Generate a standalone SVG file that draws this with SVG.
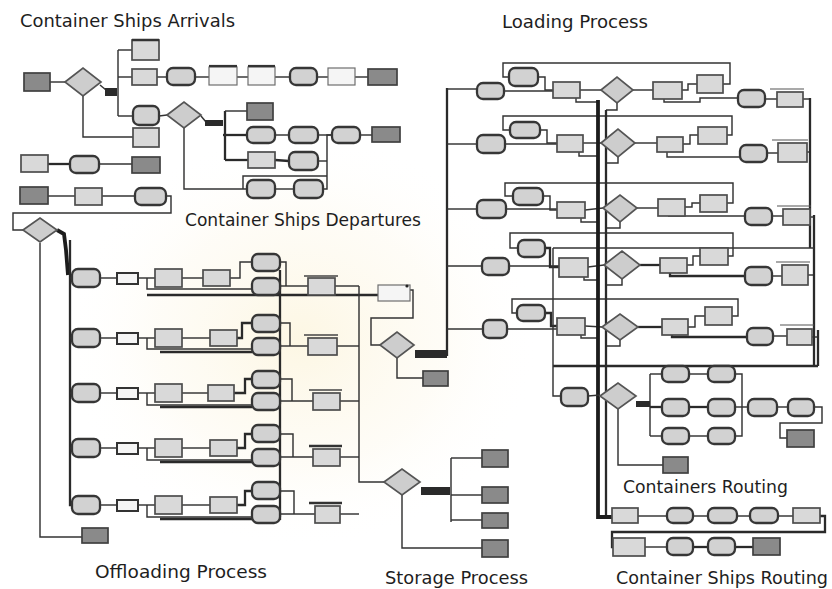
<svg xmlns="http://www.w3.org/2000/svg" width="832" height="589" viewBox="0 0 832 589">
  <style>
    .src  { fill: #8a8a8a; stroke: #404040; stroke-width: 1.7; }
    .box  { fill: #d9d9d9; stroke: #4d4d4d; stroke-width: 1.7; }
    .proc { fill: #d2d2d2; stroke: #363636; stroke-width: 2.3; }
    .q    { fill: #f5f5f5; stroke: #6e6e6e; stroke-width: 1.2; }
    .dec  { fill: #cdcdcd; stroke: #555; stroke-width: 1.7; }
    .bar  { fill: #2a2a2a; }
    .ln   { fill: none; stroke: #333; stroke-width: 1.45; }
    .ln2  { fill: none; stroke: #2a2a2a; stroke-width: 2.3; }
    .thick{ fill: none; stroke: #1c1c1c; stroke-width: 3.8; }
    .title{ font-family: "DejaVu Sans", "Liberation Sans", sans-serif; font-size: 17px; fill: #1e1e1e; }
  </style>
  <defs>
    <radialGradient id="glow" cx="0.5" cy="0.5" r="0.5">
      <stop offset="0" stop-color="#fcf4da" stop-opacity="0.75"/>
      <stop offset="0.6" stop-color="#fdf8ea" stop-opacity="0.4"/>
      <stop offset="1" stop-color="#ffffff" stop-opacity="0"/>
    </radialGradient>
  </defs>

  <rect width="832" height="589" fill="#ffffff"/>
  <ellipse cx="300" cy="340" rx="240" ry="210" fill="url(#glow)"/>

  <!-- section titles -->
  <g id="titles">
    <text class="title" x="20" y="27" textLength="215" lengthAdjust="spacingAndGlyphs">Container Ships Arrivals</text>
    <text class="title" x="502" y="28" textLength="146" lengthAdjust="spacingAndGlyphs">Loading Process</text>
    <text class="title" x="185" y="226" textLength="236" lengthAdjust="spacingAndGlyphs">Container Ships Departures</text>
    <text class="title" x="95" y="578" textLength="172" lengthAdjust="spacingAndGlyphs">Offloading Process</text>
    <text class="title" x="385" y="584" textLength="143" lengthAdjust="spacingAndGlyphs">Storage Process</text>
    <text class="title" x="623" y="493" textLength="165" lengthAdjust="spacingAndGlyphs">Containers Routing</text>
    <text class="title" x="616" y="584" textLength="212" lengthAdjust="spacingAndGlyphs">Container Ships Routing</text>
  </g>

  <!-- connectors -->
  <g id="connectors">
    <!-- arrivals -->
    <polyline class="ln" points="50,82 65,82"/>
    <polyline class="ln" points="100,85 106,90"/>
    <polyline class="ln" points="118,50 118,116"/>
    <polyline class="ln" points="118,50 132,50"/>
    <polyline class="ln" points="118,77 132,77"/>
    <polyline class="ln" points="118,116 133,116"/>
    <polyline class="ln" points="157,77 167,77"/>
    <polyline class="ln" points="195,77 209,77"/>
    <polyline class="ln" points="237,77 248,77"/>
    <polyline class="ln" points="275,77 290,77"/>
    <polyline class="ln" points="317,77 328,77"/>
    <polyline class="ln" points="355,77 368,77"/>
    <polyline class="ln" points="83,96 83,137 133,137"/>
    <polyline class="ln" points="159,116 167,115"/>
    <polyline class="ln" points="201,116 206,122"/>
    <polyline class="ln2" points="225,111 225,160"/>
    <polyline class="ln" points="225,111 247,111"/>
    <polyline class="ln2" points="223,135 247,135"/>
    <polyline class="ln2" points="225,160 248,160"/>
    <polyline class="ln" points="275,135 289,135"/>
    <polyline class="ln" points="318,135 332,135"/>
    <polyline class="ln" points="360,135 372,135"/>
    <polyline class="ln2" points="275,160 289,161"/>
    <polyline class="ln" points="184,128 184,189 247,189"/>
    <polyline class="ln" points="275,189 294,189"/>
    <polyline class="ln" points="323,189 327,189 327,135 332,135"/>
    <polyline class="ln" points="318,161 327,161"/>
    <polyline class="ln" points="243,189 243,176 327,176"/>
    <polyline class="ln2" points="48,164 70,164"/>
    <polyline class="ln" points="99,164 132,164"/>
    <polyline class="ln" points="48,196 75,196"/>
    <polyline class="ln" points="102,196 135,196"/>
    <polyline class="ln" points="166,196 171,196 171,213 13,213 13,230 23,230"/>

    <!-- offloading -->
    <polyline class="ln" points="40,243 40,537 82,537"/>
    <polyline class="thick" points="57,230 64,234 66,250 68,275"/>
    <polyline class="ln2" points="70,240 70,505 72,505"/>
    <polyline class="ln" points="70,278 72,278"/>
    <polyline class="ln" points="70,338 72,338"/>
    <polyline class="ln" points="70,393 72,393"/>
    <polyline class="ln" points="70,448 72,448"/>

    <polyline class="ln" points="100,278 117,278"/>
    <polyline class="ln" points="138,278 147,278 155,278"/>
    <polyline class="ln" points="147,278 147,289 252,289"/>
    <polyline class="ln" points="182,278 203,278"/>
    <polyline class="ln" points="230,278 240,278 240,262 252,262"/>
    <polyline class="ln" points="280,262 286,262 286,286"/>
    <polyline class="ln" points="280,286 308,286"/>
    <polyline class="ln" points="335,286 359,286"/>
    <polyline class="ln2" points="147,295 378,295"/>

    <polyline class="ln" points="100,338 117,338"/>
    <polyline class="ln" points="138,338 147,338 155,338"/>
    <polyline class="ln" points="147,338 147,349 252,349"/>
    <polyline class="ln2" points="160,352 252,352"/>
    <polyline class="ln" points="182,338 210,338"/>
    <polyline class="ln2" points="237,338 242,338 242,323 252,323"/>
    <polyline class="ln" points="280,323 290,323 290,346"/>
    <polyline class="ln" points="280,346 308,346"/>
    <polyline class="ln" points="337,346 359,346"/>

    <polyline class="ln" points="100,393 117,393"/>
    <polyline class="ln" points="138,393 147,393 155,393"/>
    <polyline class="ln" points="147,393 147,405 252,405"/>
    <polyline class="ln2" points="160,407 252,407"/>
    <polyline class="ln" points="182,393 208,393"/>
    <polyline class="ln2" points="234,393 245,393 245,379 252,379"/>
    <polyline class="ln" points="280,379 292,379 292,401"/>
    <polyline class="ln" points="280,401 313,401"/>
    <polyline class="ln" points="340,401 359,401"/>

    <polyline class="ln" points="100,448 117,448"/>
    <polyline class="ln" points="138,448 147,448 155,448"/>
    <polyline class="ln" points="147,448 147,460 252,460"/>
    <polyline class="ln2" points="160,462 252,462"/>
    <polyline class="ln" points="182,448 210,448"/>
    <polyline class="ln2" points="237,448 245,448 245,434 252,434"/>
    <polyline class="ln" points="280,434 293,434 293,457"/>
    <polyline class="ln" points="280,457 313,457"/>
    <polyline class="ln" points="340,457 359,457"/>

    <polyline class="ln" points="100,505 117,505"/>
    <polyline class="ln" points="138,505 147,505 155,505"/>
    <polyline class="ln" points="147,505 147,517 252,517"/>
    <polyline class="ln2" points="160,519 252,519"/>
    <polyline class="ln" points="182,505 210,505"/>
    <polyline class="ln2" points="237,505 245,505 245,491 252,491"/>
    <polyline class="ln" points="280,491 294,491 294,514"/>
    <polyline class="ln" points="280,514 315,514"/>
    <polyline class="ln" points="340,514 359,514"/>

    <polyline class="ln2" points="280,270 280,520"/>
    <polyline class="ln" points="359,286 359,482 384,482"/>

    <!-- storage -->
    <polyline class="ln" points="410,290 413,290 413,318 371,318 371,345 380,345"/>
    <polyline class="ln2" points="447,356 447,88"/>
    <polyline class="ln" points="397,358 397,378 423,378"/>
    <polyline class="ln" points="451,458 451,522"/>
    <polyline class="ln" points="451,458 482,458"/>
    <polyline class="ln" points="451,495 482,495"/>
    <polyline class="ln" points="451,520 482,520"/>
    <polyline class="ln" points="402,495 402,548 482,548"/>

    <!-- loading: entry lines from the left bus -->
    <polyline class="ln" points="447,89 477,89"/>
    <polyline class="ln" points="447,144 477,144"/>
    <polyline class="ln" points="447,209 477,209"/>
    <polyline class="ln" points="447,266 482,266"/>
    <polyline class="ln" points="447,329 483,329"/>

    <!-- loading row 1 -->
    <polyline class="ln" points="504,91 553,91"/>
    <polyline class="ln" points="723,84 730,84 730,63 503,63 503,77 509,77"/>
    <polyline class="ln" points="538,77 545,77 545,90 553,90"/>
    <polyline class="ln" points="580,90 601,90"/>
    <polyline class="ln" points="576,98 576,102 598,102"/>
    <polyline class="ln" points="633,90 653,90"/>
    <polyline class="ln" points="682,90 688,90 688,84 697,84"/>
    <polyline class="ln" points="664,99 664,102 700,102 700,98 738,98"/>
    <polyline class="ln" points="765,99 777,99"/>
    <polyline class="ln" points="803,99 810,99"/>
    <polyline class="ln" points="617,103 617,110 606,110"/>

    <!-- loading row 2 -->
    <polyline class="ln" points="505,144 557,144"/>
    <polyline class="ln" points="727,135 732,135 732,116 503,116 503,130 510,130"/>
    <polyline class="ln" points="540,130 547,130 547,143 557,143"/>
    <polyline class="ln" points="583,143 601,143"/>
    <polyline class="ln" points="579,152 579,156 598,156"/>
    <polyline class="ln" points="635,143 657,143"/>
    <polyline class="ln" points="683,144 690,144 690,135 698,135"/>
    <polyline class="ln" points="667,152 667,157 740,157"/>
    <polyline class="ln" points="767,153 778,153"/>
    <polyline class="ln" points="807,152 810,152"/>
    <polyline class="ln" points="618,157 618,163 606,163"/>

    <!-- loading row 3 -->
    <polyline class="ln" points="506,209 557,209"/>
    <polyline class="ln" points="727,203 733,203 733,183 505,183 505,196 513,196"/>
    <polyline class="ln" points="543,196 550,196 550,210 557,210"/>
    <polyline class="ln" points="585,210 603,208"/>
    <polyline class="ln" points="581,218 581,222 598,222"/>
    <polyline class="ln" points="637,208 658,208"/>
    <polyline class="ln" points="685,207 692,207 692,203 700,203"/>
    <polyline class="ln" points="668,216 745,216"/>
    <polyline class="ln" points="772,216 783,216"/>
    <polyline class="ln" points="810,217 814,217"/>
    <polyline class="ln" points="620,222 620,228 606,228"/>

    <!-- loading row 4 -->
    <polyline class="ln" points="509,266 559,266"/>
    <polyline class="ln" points="728,256 733,256 733,233 510,233 510,248 518,248"/>
    <polyline class="ln2" points="545,248 550,248 550,267 559,267"/>
    <polyline class="ln" points="588,267 604,265"/>
    <polyline class="ln" points="584,277 584,280 598,280"/>
    <polyline class="ln2" points="640,265 660,265"/>
    <polyline class="ln" points="687,265 693,265 693,256 700,256"/>
    <polyline class="ln2" points="670,273 670,276 745,276"/>
    <polyline class="ln" points="772,276 782,276"/>
    <polyline class="ln" points="808,275 814,275"/>
    <polyline class="ln" points="622,279 622,285 606,285"/>

    <!-- loading row 5 -->
    <polyline class="ln" points="507,329 557,329"/>
    <polyline class="ln" points="732,316 738,316 738,299 512,299 512,313 517,313"/>
    <polyline class="ln2" points="545,313 551,313 551,326 557,326"/>
    <polyline class="ln" points="585,326 602,327"/>
    <polyline class="ln" points="581,335 581,338 598,338"/>
    <polyline class="ln2" points="638,327 662,327"/>
    <polyline class="ln" points="688,327 695,327 695,316 705,316"/>
    <polyline class="ln2" points="672,335 672,337 747,337"/>
    <polyline class="ln" points="773,336 787,336"/>
    <polyline class="ln" points="812,337 818,337"/>
    <polyline class="ln" points="620,340 620,346 606,346"/>

    <!-- loading buses -->
    <polyline class="ln2" points="810,98 810,248"/>
    <polyline class="ln2" points="814,215 814,366"/>
    <polyline class="ln2" points="818,330 818,366"/>
    <polyline class="ln" points="553,248 814,248"/>
    <polyline class="ln2" points="553,366 818,366"/>
    <polyline class="ln" points="553,248 553,396 562,396"/>
    <polyline class="thick" points="598,100 598,517 612,517"/>
    <polyline class="ln2" points="606,110 606,515"/>

    <!-- containers routing -->
    <polyline class="ln" points="588,396 600,395"/>
    <polyline class="ln" points="650,374 650,436"/>
    <polyline class="ln" points="650,374 662,374"/>
    <polyline class="ln2" points="650,407 662,407"/>
    <polyline class="ln" points="650,436 662,436"/>
    <polyline class="ln" points="688,374 708,374"/>
    <polyline class="ln2" points="688,407 708,407"/>
    <polyline class="ln" points="688,436 708,436"/>
    <polyline class="ln" points="735,374 742,374 742,436 735,436"/>
    <polyline class="ln" points="735,407 748,407"/>
    <polyline class="ln" points="777,407 788,407"/>
    <polyline class="ln" points="813,407 822,407 822,423 780,423 780,438 787,438"/>
    <polyline class="ln" points="618,408 618,465 663,465"/>

    <!-- container ships routing -->
    <polyline class="ln" points="638,516 667,516"/>
    <polyline class="ln" points="693,516 708,516"/>
    <polyline class="ln" points="737,516 750,516"/>
    <polyline class="ln" points="778,516 793,516"/>
    <polyline class="ln2" points="820,516 825,516 825,532 612,532 612,547 613,547"/>
    <polyline class="ln" points="645,547 667,547"/>
    <polyline class="ln2" points="693,547 708,547"/>
    <polyline class="ln2" points="735,547 753,547"/>
  </g>

  <!-- container ships arrivals -->
  <g id="arrivals">
    <g id="a_src"><rect class="src" x="24" y="73" width="26" height="18"/></g>
    <g id="a_dec1"><polygon class="dec" points="65,82 83,68 101,82 83,96"/></g>
    <g id="a_split1"><rect class="bar" x="105" y="88" width="12" height="8"/></g>
    <g id="a_n1"><rect class="box" x="132" y="40" width="27" height="20"/><line x1="132" y1="40" x2="159" y2="40" stroke="#333" stroke-width="2.5"/></g>
    <g id="a_n2"><rect class="box" x="132" y="69" width="25" height="16"/></g>
    <g id="a_n3"><rect class="proc" x="167" y="68" width="28" height="17" rx="6"/></g>
    <g id="a_n4"><rect class="q" x="209" y="67" width="28" height="18"/><line x1="209" y1="66" x2="237" y2="66" stroke="#333" stroke-width="2.2"/></g>
    <g id="a_n5"><rect class="q" x="248" y="67" width="27" height="18"/><line x1="248" y1="66" x2="275" y2="66" stroke="#333" stroke-width="2.2"/></g>
    <g id="a_n6"><rect class="proc" x="290" y="68" width="27" height="17" rx="6"/></g>
    <g id="a_n7"><rect class="q" x="328" y="68" width="27" height="17"/></g>
    <g id="a_n8"><rect class="src" x="368" y="69" width="29" height="16"/></g>
    <g id="a_n9"><rect class="proc" x="133" y="106" width="26" height="19" rx="6"/></g>
    <g id="a_dec2"><polygon class="dec" points="167,115 184,102 201,115 184,128"/></g>
    <g id="a_split2"><rect class="bar" x="205" y="120" width="18" height="6"/></g>
    <g id="a_n10"><rect class="box" x="133" y="128" width="26" height="19"/></g>
    <g id="a_n11"><rect class="src" x="247" y="103" width="26" height="17"/></g>
    <g id="a_n12"><rect class="proc" x="247" y="127" width="28" height="16" rx="6"/></g>
    <g id="a_n13"><rect class="proc" x="289" y="127" width="29" height="16" rx="6"/></g>
    <g id="a_n14"><rect class="proc" x="332" y="127" width="28" height="16" rx="6"/></g>
    <g id="a_n15"><rect class="src" x="372" y="127" width="28" height="15"/></g>
    <g id="a_n16"><rect class="box" x="248" y="152" width="27" height="16"/></g>
    <g id="a_n17"><rect class="proc" x="289" y="152" width="29" height="18" rx="6"/></g>
    <g id="a_n18"><rect class="proc" x="247" y="180" width="28" height="18" rx="6"/></g>
    <g id="a_n19"><rect class="proc" x="294" y="180" width="29" height="18" rx="6"/></g>
    <g id="a_n20"><rect class="box" x="21" y="155" width="27" height="17"/></g>
    <g id="a_n21"><rect class="proc" x="70" y="156" width="29" height="17" rx="6"/></g>
    <g id="a_n22"><rect class="src" x="132" y="157" width="28" height="16"/></g>
    <g id="a_n23"><rect class="src" x="20" y="187" width="28" height="17"/></g>
    <g id="a_n24"><rect class="box" x="75" y="188" width="27" height="17"/></g>
    <g id="a_n25"><rect class="proc" x="135" y="188" width="31" height="17" rx="6"/></g>
  </g>

  <!-- offloading process -->
  <g id="offloading">
    <g id="o_dec"><polygon class="dec" points="23,230 40,218 57,230 40,242"/></g>
    <g id="o_sink"><rect class="src" x="82" y="528" width="26" height="15"/></g>

    <g id="o_r1">
      <rect class="proc" x="72" y="269" width="28" height="18" rx="6"/>
      <rect class="q" x="117" y="273" width="21" height="11" style="stroke:#333;stroke-width:2"/>
      <rect class="box" x="155" y="269" width="27" height="18"/>
      <rect class="box" x="203" y="270" width="27" height="16"/>
      <rect class="proc" x="252" y="254" width="28" height="17" rx="6"/>
      <rect class="proc" x="252" y="278" width="28" height="17" rx="6"/>
      <rect class="box" x="308" y="278" width="27" height="17"/>
      <line x1="304" y1="276" x2="338" y2="276" stroke="#444" stroke-width="1.6"/>
    </g>
    <g id="o_r2">
      <rect class="proc" x="72" y="329" width="28" height="18" rx="6"/>
      <rect class="q" x="117" y="333" width="21" height="11" style="stroke:#333;stroke-width:2"/>
      <rect class="box" x="155" y="329" width="27" height="18"/>
      <rect class="box" x="210" y="330" width="27" height="16"/>
      <rect class="proc" x="252" y="315" width="28" height="17" rx="6"/>
      <rect class="proc" x="252" y="338" width="28" height="17" rx="6"/>
      <rect class="box" x="308" y="338" width="29" height="17"/>
      <line x1="304" y1="335" x2="338" y2="335" stroke="#444" stroke-width="1.6"/>
    </g>
    <g id="o_r3">
      <rect class="proc" x="72" y="384" width="28" height="18" rx="6"/>
      <rect class="q" x="117" y="388" width="21" height="11" style="stroke:#333;stroke-width:2"/>
      <rect class="box" x="155" y="384" width="27" height="18"/>
      <rect class="box" x="208" y="385" width="26" height="16"/>
      <rect class="proc" x="252" y="371" width="28" height="17" rx="6"/>
      <rect class="proc" x="252" y="393" width="28" height="17" rx="6"/>
      <rect class="box" x="313" y="393" width="27" height="17"/>
      <line x1="309" y1="390" x2="342" y2="390" stroke="#444" stroke-width="1.6"/>
    </g>
    <g id="o_r4">
      <rect class="proc" x="72" y="439" width="28" height="18" rx="6"/>
      <rect class="q" x="117" y="443" width="21" height="11" style="stroke:#333;stroke-width:2"/>
      <rect class="box" x="155" y="439" width="27" height="18"/>
      <rect class="box" x="210" y="440" width="27" height="16"/>
      <rect class="proc" x="252" y="425" width="28" height="17" rx="6"/>
      <rect class="proc" x="252" y="449" width="28" height="17" rx="6"/>
      <rect class="box" x="313" y="449" width="27" height="17"/>
      <line x1="309" y1="446" x2="342" y2="446" stroke="#333" stroke-width="2.4"/>
    </g>
    <g id="o_r5">
      <rect class="proc" x="72" y="496" width="28" height="18" rx="6"/>
      <rect class="q" x="117" y="500" width="21" height="11" style="stroke:#333;stroke-width:2"/>
      <rect class="box" x="155" y="496" width="27" height="18"/>
      <rect class="box" x="210" y="497" width="27" height="16"/>
      <rect class="proc" x="252" y="482" width="28" height="17" rx="6"/>
      <rect class="proc" x="252" y="506" width="28" height="17" rx="6"/>
      <rect class="box" x="315" y="506" width="25" height="17"/>
      <line x1="309" y1="503" x2="342" y2="503" stroke="#333" stroke-width="2.4"/>
    </g>
  </g>

  <!-- storage process -->
  <g id="storage">
    <g id="s_gate"><rect class="q" x="378" y="285" width="32" height="16"/><circle cx="407" cy="286" r="1.6" fill="#222"/></g>
    <g id="s_dec0"><polygon class="dec" points="380,345 397,332 414,345 397,358"/></g>
    <g id="s_split0"><rect class="bar" x="415" y="350" width="32" height="8"/></g>
    <g id="s_sink0"><rect class="src" x="423" y="371" width="25" height="15"/></g>
    <g id="s_dec"><polygon class="dec" points="384,482 402,469 420,482 402,495"/></g>
    <g id="s_split"><rect class="bar" x="421" y="487" width="29" height="8"/></g>
    <g id="s_n1"><rect class="src" x="482" y="450" width="26" height="17"/></g>
    <g id="s_n2"><rect class="src" x="482" y="487" width="26" height="16"/></g>
    <g id="s_n3"><rect class="src" x="482" y="513" width="26" height="15"/></g>
    <g id="s_n4"><rect class="src" x="482" y="540" width="26" height="17"/></g>
  </g>

  <!-- loading process -->
  <g id="loading">
    <g id="l_r1">
      <rect class="proc" x="477" y="83" width="27" height="16" rx="6"/>
      <rect class="proc" x="509" y="68" width="29" height="18" rx="6"/>
      <rect class="box" x="553" y="82" width="27" height="16"/>
      <polygon class="dec" points="601,90 617,77 633,90 617,103"/>
      <rect class="box" x="653" y="82" width="29" height="17"/>
      <rect class="box" x="697" y="75" width="26" height="18"/>
      <rect class="proc" x="738" y="90" width="27" height="17" rx="6"/>
      <rect class="box" x="777" y="92" width="26" height="15"/>
      <line x1="770" y1="89" x2="804" y2="89" stroke="#555" stroke-width="1.2"/>
    </g>
    <g id="l_r2">
      <rect class="proc" x="477" y="135" width="28" height="18" rx="6"/>
      <rect class="proc" x="510" y="122" width="30" height="16" rx="6"/>
      <rect class="box" x="557" y="135" width="26" height="17"/>
      <polygon class="dec" points="601,143 618,129 635,143 618,157"/>
      <rect class="box" x="657" y="137" width="26" height="15"/>
      <rect class="box" x="698" y="127" width="29" height="17"/>
      <rect class="proc" x="740" y="145" width="27" height="17" rx="6"/>
      <rect class="box" x="778" y="143" width="29" height="19"/>
      <line x1="772" y1="140" x2="808" y2="140" stroke="#555" stroke-width="1.2"/>
    </g>
    <g id="l_r3">
      <rect class="proc" x="477" y="200" width="29" height="18" rx="6"/>
      <rect class="proc" x="513" y="188" width="30" height="17" rx="6"/>
      <rect class="box" x="557" y="202" width="28" height="16"/>
      <polygon class="dec" points="603,208 620,195 637,208 620,222"/>
      <rect class="box" x="658" y="199" width="27" height="17"/>
      <rect class="box" x="700" y="195" width="27" height="17"/>
      <rect class="proc" x="745" y="208" width="27" height="17" rx="6"/>
      <rect class="box" x="783" y="209" width="27" height="16"/>
      <line x1="777" y1="206" x2="811" y2="206" stroke="#555" stroke-width="1.2"/>
    </g>
    <g id="l_r4">
      <rect class="proc" x="482" y="258" width="27" height="17" rx="6"/>
      <rect class="proc" x="518" y="240" width="27" height="17" rx="6"/>
      <rect class="box" x="559" y="258" width="29" height="19"/>
      <polygon class="dec" points="604,265 622,251 640,265 622,279"/>
      <rect class="box" x="660" y="258" width="27" height="15"/>
      <rect class="box" x="700" y="248" width="28" height="17"/>
      <rect class="proc" x="745" y="267" width="27" height="18" rx="6"/>
      <rect class="box" x="782" y="265" width="26" height="20"/>
      <line x1="776" y1="262" x2="810" y2="262" stroke="#555" stroke-width="1.2"/>
    </g>
    <g id="l_r5">
      <rect class="proc" x="483" y="320" width="24" height="18" rx="6"/>
      <rect class="proc" x="517" y="305" width="28" height="16" rx="6"/>
      <rect class="box" x="557" y="318" width="28" height="17"/>
      <polygon class="dec" points="602,327 620,314 638,327 620,340"/>
      <rect class="box" x="662" y="319" width="26" height="16"/>
      <rect class="box" x="705" y="307" width="27" height="18"/>
      <rect class="proc" x="747" y="328" width="26" height="17" rx="6"/>
      <rect class="box" x="787" y="329" width="25" height="16"/>
      <line x1="780" y1="325" x2="814" y2="325" stroke="#555" stroke-width="1.2"/>
    </g>
  </g>

  <!-- containers routing -->
  <g id="routing">
    <g id="c_n0"><rect class="proc" x="561" y="388" width="27" height="18" rx="6"/></g>
    <g id="c_dec"><polygon class="dec" points="600,396 618,383 636,396 618,409"/></g>
    <g id="c_split"><rect class="bar" x="636" y="401" width="14" height="6"/></g>
    <g id="c_n1"><rect class="proc" x="662" y="366" width="27" height="16" rx="6"/></g>
    <g id="c_n2"><rect class="proc" x="662" y="399" width="27" height="17" rx="6"/></g>
    <g id="c_n3"><rect class="proc" x="662" y="428" width="27" height="16" rx="6"/></g>
    <g id="c_n4"><rect class="proc" x="708" y="366" width="27" height="16" rx="6"/></g>
    <g id="c_n5"><rect class="proc" x="708" y="399" width="27" height="17" rx="6"/></g>
    <g id="c_n6"><rect class="proc" x="708" y="428" width="27" height="16" rx="6"/></g>
    <g id="c_n7"><rect class="proc" x="748" y="399" width="29" height="17" rx="6"/></g>
    <g id="c_n8"><rect class="proc" x="788" y="399" width="26" height="17" rx="6"/></g>
    <g id="c_sink1"><rect class="src" x="787" y="430" width="27" height="17"/></g>
    <g id="c_sink2"><rect class="src" x="663" y="457" width="25" height="16"/></g>
  </g>

  <!-- container ships routing -->
  <g id="ship_routing">
    <g id="r_n1"><rect class="box" x="612" y="508" width="26" height="15"/></g>
    <g id="r_n2"><rect class="proc" x="667" y="508" width="26" height="15" rx="6"/></g>
    <g id="r_n3"><rect class="proc" x="708" y="508" width="29" height="15" rx="6"/></g>
    <g id="r_n4"><rect class="proc" x="750" y="508" width="28" height="15" rx="6"/></g>
    <g id="r_n5"><rect class="box" x="793" y="508" width="27" height="15"/></g>
    <g id="r_n6"><rect class="box" x="613" y="538" width="32" height="18"/></g>
    <g id="r_n7"><rect class="proc" x="667" y="538" width="26" height="17" rx="6"/></g>
    <g id="r_n8"><rect class="proc" x="708" y="538" width="27" height="17" rx="6"/></g>
    <g id="r_n9"><rect class="src" x="753" y="538" width="27" height="17"/></g>
  </g>
</svg>
